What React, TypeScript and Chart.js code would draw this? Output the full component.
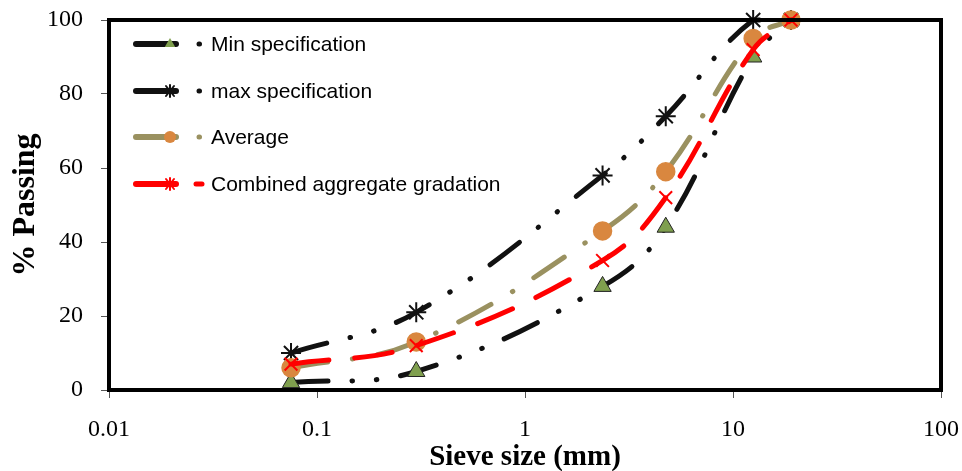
import React, { useEffect, useRef } from "react";
import { Chart, registerables } from "chart.js";

Chart.register(...registerables);

const sieveSizes = [0.075, 0.3, 2.36, 4.75, 12.5, 19];
const minSpec = [2, 5, 28, 44, 90, 100];
const maxSpec = [10, 21, 58, 74, 100, 100];
const average = [6, 13, 43, 59, 95, 100];
const combined = [7, 12, 35, 52, 92, 100];
const xTicks = [0.01, 0.1, 1, 10, 100];
const seriesNames = [
  "Min specification",
  "max specification",
  "Average",
  "Combined aggregate gradation",
];

const BLACK = "#111111";
const OLIVE = "#9A9160";
const ORANGE = "#D9873F";
const GREEN = "#7F9F4E";
const RED = "#FF0000";
const SERIF = '"Liberation Serif", "Times New Roman", serif';

const toXY = (ys: number[]) => sieveSizes.map((x, i) => ({ x, y: ys[i] }));

const frame = {
  id: "frame",
  afterDatasetsDraw(chart: any) {
    const { ctx, chartArea: a } = chart;
    ctx.save();
    ctx.strokeStyle = "#000";
    ctx.lineWidth = 4;
    ctx.strokeRect(a.left, a.top, a.right - a.left, a.bottom - a.top);
    ctx.restore();
  },
};

const legendPlugin = {
  id: "customLegend",
  afterDraw(chart: any) {
    const { ctx } = chart;
    const rows = [44, 91, 137, 184];
    ctx.save();
    chart.data.datasets.forEach((ds: any, i: number) => {
      const y = rows[i];
      ctx.lineCap = "round";
      ctx.strokeStyle = ds.borderColor;
      ctx.lineWidth = 6;
      ctx.setLineDash([]);
      ctx.beginPath();
      ctx.moveTo(136, y);
      ctx.lineTo(176, y);
      ctx.stroke();
      const meta = chart.getDatasetMeta(i);
      const el = meta.data[0];
      if (el) {
        const opts = el.options;
        ctx.save();
        ctx.fillStyle = opts.backgroundColor;
        ctx.strokeStyle = opts.borderColor;
        ctx.lineWidth = 1.5;
        const r = 6;
        const style = opts.pointStyle;
        if (style === "triangle") {
          ctx.beginPath();
          ctx.moveTo(170, y - r);
          ctx.lineTo(170 + r * 0.87, y + r * 0.5);
          ctx.lineTo(170 - r * 0.87, y + r * 0.5);
          ctx.closePath();
          ctx.fill();
        } else if (style === "circle") {
          ctx.beginPath();
          ctx.arc(170, y, r, 0, Math.PI * 2);
          ctx.fill();
        } else {
          ctx.lineWidth = 2;
          ctx.beginPath();
          ctx.moveTo(170 - 4, y - 5);
          ctx.lineTo(170 + 4, y + 5);
          ctx.moveTo(170 + 4, y - 5);
          ctx.lineTo(170 - 4, y + 5);
          ctx.moveTo(170, y - 6);
          ctx.lineTo(170, y + 6);
          ctx.stroke();
        }
        ctx.restore();
      }
      ctx.strokeStyle = ds.borderColor;
      ctx.lineWidth = 5;
      ctx.beginPath();
      if (i === 3) {
        ctx.moveTo(196, y);
        ctx.lineTo(202, y);
      } else {
        ctx.moveTo(199, y);
        ctx.lineTo(199.5, y);
      }
      ctx.stroke();
      ctx.fillStyle = "#000";
      ctx.font = '21px "Liberation Sans", Arial, sans-serif';
      ctx.textBaseline = "middle";
      ctx.textAlign = "left";
      ctx.fillText(seriesNames[i], 211, y + 1);
    });
    ctx.restore();
  },
};

export default function App() {
  const ref = useRef<HTMLCanvasElement>(null);
  useEffect(() => {
    document.body.style.margin = "0";
    const common = {
      borderWidth: 5,
      tension: 0.4,
      borderCapStyle: "round" as const,
      clip: false as const,
      pointBorderWidth: 1.5,
    };
    const chart = new Chart(ref.current!, {
      type: "line",
      data: {
        datasets: [
          {
            ...common,
            label: seriesNames[0],
            data: toXY(minSpec),
            borderColor: BLACK,
            borderDash: [37, 24, 0.5, 24, 0.5, 24],
            pointStyle: "triangle",
            pointRadius: 10,
            pointBackgroundColor: GREEN,
            pointBorderColor: "#222",
            pointBorderWidth: 1,
            order: 4,
          },
          {
            ...common,
            label: seriesNames[1],
            data: toXY(maxSpec),
            borderColor: BLACK,
            borderDash: [37, 24, 0.5, 24, 0.5, 24],
            pointStyle: "star",
            pointRadius: 10,
            pointBackgroundColor: BLACK,
            pointBorderColor: BLACK,
            pointBorderWidth: 2,
            order: 3,
          },
          {
            ...common,
            label: seriesNames[2],
            data: toXY(average),
            borderColor: OLIVE,
            borderDash: [37, 25, 0.5, 25],
            pointStyle: "circle",
            pointRadius: 9,
            pointBackgroundColor: ORANGE,
            pointBorderColor: ORANGE,
            order: 2,
          },
          {
            ...common,
            label: seriesNames[3],
            data: toXY(combined),
            borderColor: RED,
            borderDash: [38, 26],
            pointStyle: "crossRot",
            pointRadius: 9,
            pointBackgroundColor: RED,
            pointBorderColor: RED,
            pointBorderWidth: 2,
            order: 1,
          },
        ],
      },
      options: {
        animation: false,
        responsive: false,
        layout: { padding: { left: 0, top: 20, right: 21, bottom: 0 } },
        plugins: { legend: { display: false }, tooltip: { enabled: false } },
        scales: {
          x: {
            type: "logarithmic",
            min: 0.01,
            max: 100,
            afterBuildTicks: (scale: any) => {
              scale.ticks = xTicks.map((v) => ({ value: v }));
            },
            afterFit: (scale: any) => {
              scale.height = 81;
              scale.paddingLeft = 0;
              scale.paddingRight = 0;
            },
            ticks: {
              autoSkip: false,
              maxRotation: 0,
              padding: 17,
              color: "#000",
              font: { family: SERIF, size: 24 },
              callback: (v: any) => String(v),
            },
            grid: {
              drawOnChartArea: false,
              drawTicks: true,
              tickLength: 8,
              color: "#555",
              lineWidth: 1,
            },
            border: { display: false },
            title: {
              display: true,
              text: "Sieve size (mm)",
              color: "#000",
              padding: { top: 0, bottom: 0 },
              font: { family: SERIF, size: 29, weight: "bold", lineHeight: 0.9 },
            },
          },
          y: {
            min: 0,
            max: 100,
            afterFit: (scale: any) => {
              scale.width = 109;
              scale.paddingTop = 0;
              scale.paddingBottom = 0;
            },
            ticks: {
              stepSize: 20,
              padding: 18,
              color: "#000",
              font: { family: SERIF, size: 24 },
            },
            grid: {
              drawOnChartArea: false,
              drawTicks: true,
              tickLength: 8,
              color: "#555",
              lineWidth: 1,
            },
            border: { display: false },
            title: {
              display: true,
              text: "% Passing",
              color: "#000",
              padding: { top: 7, bottom: 0 },
              font: { family: SERIF, size: 32, weight: "bold" },
            },
          },
        },
      },
      plugins: [frame, legendPlugin],
    });
    return () => chart.destroy();
  }, []);
  return (
    <div style={{ position: "relative", width: 962, height: 471, background: "#fff" }}>
      <canvas ref={ref} width={962} height={471} style={{ display: "block" }} />
    </div>
  );
}
